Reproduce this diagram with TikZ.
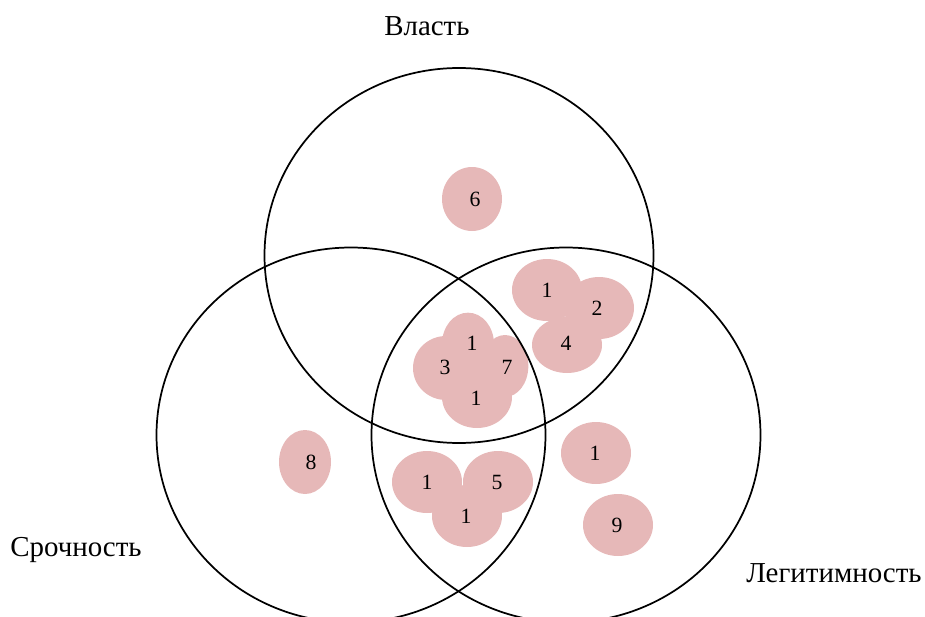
\documentclass[tikz,border=0pt]{standalone}
\usepackage{fontspec}
\setmainfont{Liberation Serif}
\usetikzlibrary{shapes.geometric}
\definecolor{blobpink}{RGB}{230,184,184}
\begin{document}
\begin{tikzpicture}[x=0.75pt,y=-0.75pt,
  blob/.style 2 args={ellipse,fill=blobpink,draw=none,inner sep=0pt,minimum width=#1,minimum height=#2},
  num/.style={font=\fontsize{16.3}{19}\selectfont,inner sep=0pt},
  lbl/.style={font=\fontsize{21.7}{26}\selectfont,inner sep=0pt},
  ring/.style={ellipse,draw=black,line width=1.3pt,inner sep=0pt,minimum width=291.75pt,minimum height=281.25pt}]
\useasboundingbox (0,0) rectangle (925,617);

% pink blobs
\node[blob={45pt}{48pt}] (b6) at (472,199) {};
\node[blob={52.5pt}{46.5pt}] (b1a) at (547,290) {};
\node[blob={52.5pt}{46.5pt}] (b2) at (599,308) {};
\node[blob={52.5pt}{42pt}] (b4) at (567,345) {};
\node[blob={39pt}{47pt}] (b1b) at (468,344) {};
\node[blob={49.5pt}{48pt}] (b3) at (446,368) {};
\node[blob={35pt}{46.5pt}] (b7) at (505,366) {};
\node[blob={52.5pt}{46.5pt}] (b1c) at (477,397) {};
\node[blob={39pt}{48pt}] (b8) at (305,462) {};
\node[blob={52.5pt}{46.5pt}] (b1d) at (427,482) {};
\node[blob={52.5pt}{46.5pt}] (b5) at (498,482) {};
\node[blob={52.5pt}{46.5pt}] (b1e) at (467,516) {};
\node[blob={52.5pt}{46.5pt}] (b1f) at (596,453) {};
\node[blob={52.5pt}{46.5pt}] (b9) at (618,525) {};

% numbers
\node[num] (t6) at (475,199) {6};
\node[num] (t1a) at (547,290) {1};
\node[num] (t2) at (597,308) {2};
\node[num] (t4) at (566,343) {4};
\node[num] (t1b) at (472,343) {1};
\node[num] (t3) at (445,367) {3};
\node[num] (t7) at (507,367) {7};
\node[num] (t1c) at (476,398) {1};
\node[num] (t8) at (311,462) {8};
\node[num] (t1d) at (427,482) {1};
\node[num] (t5) at (497,482) {5};
\node[num] (t1e) at (466,516) {1};
\node[num] (t1f) at (595,453) {1};
\node[num] (t9) at (617,525) {9};

% circles
\node[ring] (power) at (459,255.5) {};
\node[ring] (urgency) at (351,435) {};
\node[ring] (legit) at (566,435) {};

% labels
\node[lbl,anchor=base west] (lpower) at (384,36) {Власть};
\node[lbl,anchor=base west] (lurg) at (10,556) {Срочность};
\node[lbl,anchor=base west] (lleg) at (746,582) {Легитимность};
\end{tikzpicture}
\end{document}
